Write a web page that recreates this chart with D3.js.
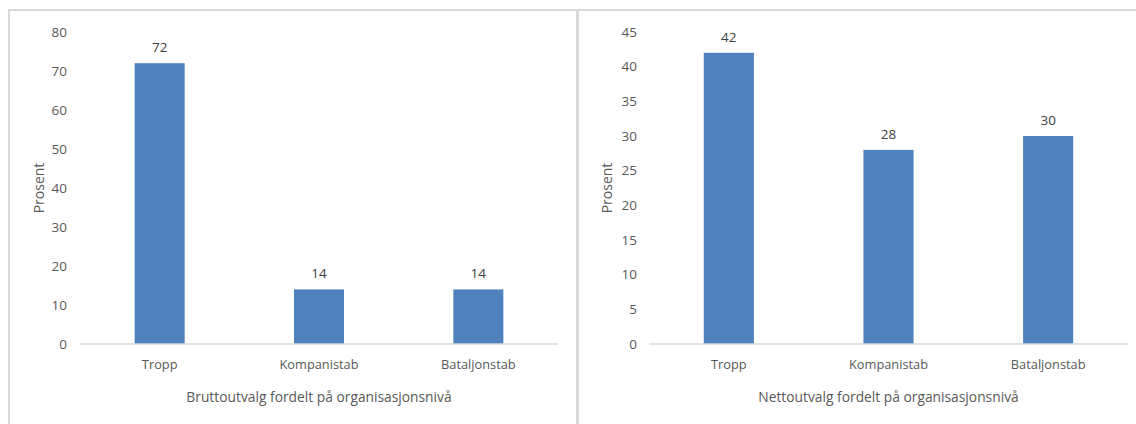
<!DOCTYPE html>
<html>
<head>
<meta charset="utf-8">
<script src="https://cdn.jsdelivr.net/npm/d3@7"></script>
<style>
  html, body { margin: 0; padding: 0; background: #fff; }
  svg { display: block; }
  text { font-family: "Open Sans", "Noto Sans", sans-serif; }
</style>
</head>
<body>
<svg id="chart" width="1136" height="424"></svg>
<script>
// Organisation levels shown on the x axis of both panels
const categories = ["Tropp", "Kompanistab", "Bataljonstab"];

// Gross sample, percent per level
const bruttoValues = [72, 14, 14];
// Net sample, percent per level
const nettoValues = [42, 28, 30];

// Y axis ticks for each panel
const bruttoTicks = [0, 10, 20, 30, 40, 50, 60, 70, 80];
const nettoTicks = [0, 5, 10, 15, 20, 25, 30, 35, 40, 45];

const panelTitles = [
  "Bruttoutvalg fordelt på organisasjonsnivå",
  "Nettoutvalg fordelt på organisasjonsnivå"
];
const yTitle = "Prosent";

const svg = d3.select("#chart");
const barColor = "#4f81bd";
const gridGray = "#d9d9d9";
const labelGray = "#595959";
const fontStack = '"Open Sans", "Noto Sans", sans-serif';

// Panel frames
svg.append("rect")
  .attr("x", 9).attr("y", 10).attr("width", 568).attr("height", 430)
  .attr("fill", "none").attr("stroke", gridGray).attr("stroke-width", 2);
svg.append("rect")
  .attr("x", 578).attr("y", 10).attr("width", 580).attr("height", 430)
  .attr("fill", "none").attr("stroke", gridGray).attr("stroke-width", 2);

function drawPanel(opts) {
  const { left, right, values, ticks, title, tickX, yTitleX } = opts;
  const top = 32, bottom = 344;

  const x = d3.scaleBand().domain(categories).range([left, right])
    .paddingInner(0.686).paddingOuter(0.343);
  const y = d3.scaleLinear().domain([0, d3.max(ticks)]).range([bottom, top]);

  const g = svg.append("g");

  // Y axis labels (no axis line)
  const yAxis = d3.axisLeft(y).tickValues(ticks).tickSize(0).tickPadding(0);
  const ya = g.append("g").attr("transform", `translate(${tickX},0)`).call(yAxis);
  ya.select(".domain").remove();
  ya.selectAll("text")
    .attr("fill", labelGray).attr("font-size", 13.5)
    .attr("font-family", fontStack);

  // Bars
  g.selectAll("rect.bar").data(values).enter().append("rect")
    .attr("class", "bar")
    .attr("x", (d, i) => x(categories[i]))
    .attr("width", x.bandwidth())
    .attr("y", d => y(d))
    .attr("height", d => y(0) - y(d))
    .attr("fill", barColor);

  // Value labels
  g.selectAll("text.val").data(values).enter().append("text")
    .attr("class", "val")
    .attr("x", (d, i) => x(categories[i]) + x.bandwidth() / 2)
    .attr("y", d => y(d) - 11)
    .attr("text-anchor", "middle")
    .attr("fill", "#404040").attr("font-size", 13.5)
    .text(d => d);

  // X axis: baseline and category labels
  const xAxis = d3.axisBottom(x).tickSize(0).tickPadding(16);
  const xa = g.append("g").attr("transform", `translate(0,${bottom})`).call(xAxis);
  xa.select(".domain").attr("stroke", gridGray).attr("stroke-width", 1.5)
    .attr("d", `M${left},0H${right}`);
  xa.selectAll("text")
    .attr("fill", labelGray).attr("font-size", 12.8)
    .attr("font-family", fontStack);

  // Axis titles
  g.append("text")
    .attr("x", (left + right) / 2).attr("y", 402)
    .attr("text-anchor", "middle").attr("fill", labelGray)
    .attr("font-size", 13.8)
    .text(title);

  g.append("text")
    .attr("transform", `translate(${yTitleX},${(top + bottom) / 2}) rotate(-90)`)
    .attr("text-anchor", "middle").attr("fill", labelGray)
    .attr("font-size", 14)
    .text(yTitle);
}

drawPanel({
  left: 80, right: 558, values: bruttoValues, ticks: bruttoTicks,
  title: panelTitles[0], tickX: 67, yTitleX: 44
});
drawPanel({
  left: 649, right: 1128, values: nettoValues, ticks: nettoTicks,
  title: panelTitles[1], tickX: 637, yTitleX: 612
});
</script>
</body>
</html>
